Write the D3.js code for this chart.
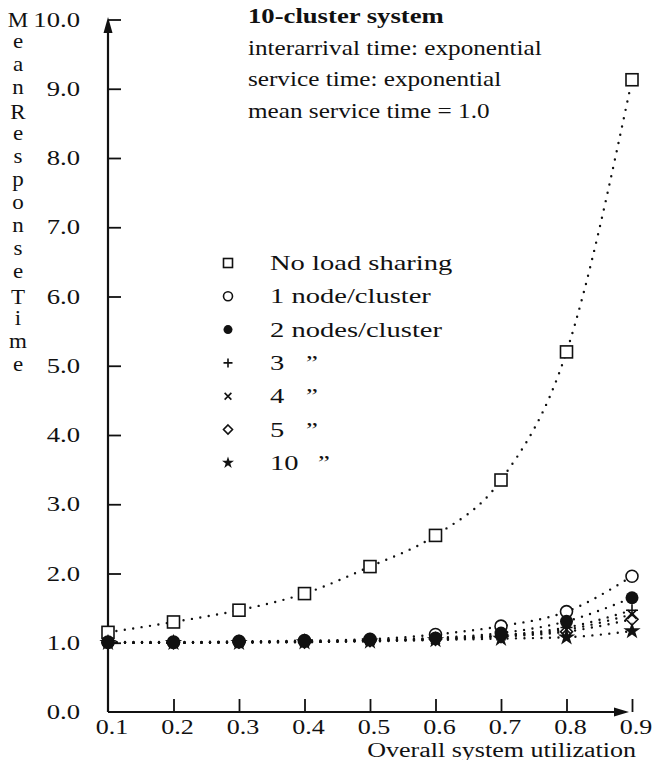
<!DOCTYPE html>
<html><head><meta charset="utf-8">
<script src="https://cdn.jsdelivr.net/npm/d3@7"></script>
<style>html,body{margin:0;padding:0;background:#fff}svg{display:block}</style>
</head><body>
<svg id="c" width="657" height="760"></svg>
<script>
// ---- data ----
const utilization = [0.1, 0.2, 0.3, 0.4, 0.5, 0.6, 0.7, 0.8, 0.9];
const noLoadSharing = [1.15, 1.30, 1.47, 1.71, 2.10, 2.55, 3.35, 5.20, 9.13];
const node1 = [1.01, 1.01, 1.02, 1.03, 1.05, 1.12, 1.24, 1.45, 1.96];
const node2 = [1.00, 1.00, 1.01, 1.02, 1.04, 1.07, 1.14, 1.31, 1.65];
const node3 = [1.00, 1.00, 1.01, 1.02, 1.03, 1.06, 1.11, 1.22, 1.47];
const node4 = [1.00, 1.00, 1.01, 1.01, 1.03, 1.05, 1.10, 1.19, 1.41];
const node5 = [1.00, 1.00, 1.01, 1.01, 1.03, 1.05, 1.09, 1.16, 1.34];
const node10 = [1.00, 1.00, 1.00, 1.01, 1.02, 1.04, 1.06, 1.08, 1.17];
const seriesNames = ["No load sharing", "1 node/cluster", "2 nodes/cluster", "3", "4", "5", "10"];
const markerTypes = ["square", "circle", "dot", "plus", "cross", "diamond", "star"];
const yTicks = [0, 1, 2, 3, 4, 5, 6, 7, 8, 9, 10];
const xTicks = [0.1, 0.2, 0.3, 0.4, 0.5, 0.6, 0.7, 0.8, 0.9];
const titleLines = ["10-cluster system", "interarrival time: exponential", "service time: exponential", "mean service time = 1.0"];
const yLabel = "Mean Response Time";
const xLabel = "Overall system utilization";

const allSeries = [noLoadSharing, node1, node2, node3, node4, node5, node10];

// ---- layout ----
const FONT = "'Liberation Serif', 'Times New Roman', serif";
const SX = 1.27;
const svg = d3.select("#c");
const x = d3.scaleLinear().domain([0.1, 0.9]).range([108, 632]);
const y = d3.scaleLinear().domain([0, 10]).range([712, 19.5]);

function txt(g, str, tx, ty, size, opts = {}) {
  return g.append("text")
    .attr("transform", `translate(${tx},${ty}) scale(${opts.sx || SX},1)`)
    .attr("font-family", FONT)
    .attr("font-size", size)
    .attr("font-weight", opts.bold ? "bold" : "normal")
    .attr("text-anchor", opts.anchor || "start")
    .attr("fill", "#111")
    .text(str);
}

// axes via d3.axis
const yAxis = svg.append("g").attr("transform", `translate(${x(0.1)},0)`)
  .call(d3.axisLeft(y).tickValues(yTicks.filter(d => d > 0)).tickSize(-13).tickFormat(d3.format(".1f")));
yAxis.select(".domain").remove();
yAxis.selectAll(".tick line").attr("stroke", "#111").attr("stroke-width", 1.8);
yAxis.selectAll(".tick text").remove();
yTicks.forEach(v => {
  txt(svg, d3.format(".1f")(v), x(0.1) - 28, y(v) + 7, 21, {anchor: "end"});
});

const xAxis = svg.append("g").attr("transform", `translate(0,${y(0)})`)
  .call(d3.axisBottom(x).tickValues(xTicks.filter(d => d > 0.1)).tickSize(-13));
xAxis.select(".domain").remove();
xAxis.selectAll(".tick line").attr("stroke", "#111").attr("stroke-width", 1.8);
xAxis.selectAll(".tick text").remove();
xTicks.forEach(v => {
  txt(svg, d3.format(".1f")(v), x(v) + 4, 734, 20.5, {anchor: "middle"});
});

// axis lines and arrows
svg.append("line").attr("x1", x(0.1)).attr("x2", x(0.1)).attr("y1", y(0)).attr("y2", 26)
  .attr("stroke", "#111").attr("stroke-width", 2.2);
svg.append("path").attr("d", `M${x(0.1)},17 L${x(0.1) - 4.5},33 L${x(0.1) + 4.5},33 Z`).attr("fill", "#111");
svg.append("line").attr("x1", x(0.1)).attr("x2", x(0.9) - 10).attr("y1", y(0)).attr("y2", y(0))
  .attr("stroke", "#111").attr("stroke-width", 2.2);
svg.append("path").attr("d", `M${x(0.9) - 3},${y(0)} L${x(0.9) - 18},${y(0) - 4.5} L${x(0.9) - 18},${y(0) + 4.5} Z`).attr("fill", "#111");

// stacked y label: letters evenly spaced from the 10.0 tick down to the 5.0 tick
const letters = yLabel.replace(/ /g, "").split("");
const step = (y(5) - y(10)) / (letters.length - 1);
letters.forEach((ch, i) => {
  const cap = ch === ch.toUpperCase();
  const cy = y(10) + i * step;
  txt(svg, ch, 18, cy + (cap ? 7 : 5), 20, {anchor: "middle", sx: 1.15});
});

// x label
txt(svg, xLabel, 636, 757, 20.5, {anchor: "end"});

// title
titleLines.forEach((t, i) => {
  txt(svg, t, 248, 23 + i * 31.5, 21, {bold: i === 0, sx: i === 0 ? 1.27 : 1.2});
});

// markers
function marker(g, type, cx, cy, s) {
  const st = "#111";
  if (type === "square") {
    g.append("rect").attr("x", cx - s).attr("y", cy - s).attr("width", 2 * s).attr("height", 2 * s)
      .attr("fill", "#fff").attr("stroke", st).attr("stroke-width", 1.6);
  } else if (type === "circle") {
    g.append("circle").attr("cx", cx).attr("cy", cy).attr("r", s).attr("fill", "#fff").attr("stroke", st).attr("stroke-width", 1.6);
  } else if (type === "dot") {
    g.append("circle").attr("cx", cx).attr("cy", cy).attr("r", s).attr("fill", st);
  } else if (type === "plus") {
    g.append("path").attr("d", `M${cx - s},${cy}H${cx + s}M${cx},${cy - s}V${cy + s}`).attr("stroke", st).attr("stroke-width", 1.6);
  } else if (type === "cross") {
    const k = s * 0.75;
    g.append("path").attr("d", `M${cx - k},${cy - k}L${cx + k},${cy + k}M${cx - k},${cy + k}L${cx + k},${cy - k}`).attr("stroke", st).attr("stroke-width", 1.6);
  } else if (type === "diamond") {
    g.append("path").attr("d", `M${cx},${cy - s}L${cx + s},${cy}L${cx},${cy + s}L${cx - s},${cy}Z`)
      .attr("fill", "#fff").attr("stroke", st).attr("stroke-width", 1.6);
  } else if (type === "star") {
    g.append("path").attr("d", d3.symbol().type(d3.symbolStar).size(s * s * 2.2)()).attr("transform", `translate(${cx},${cy})`).attr("fill", st);
  }
}

// dotted lines
const line = d3.line().x((d, i) => x(utilization[i])).y(d => y(d)).curve(d3.curveMonotoneX);
allSeries.forEach(s => {
  svg.append("path").attr("d", line(s)).attr("fill", "none").attr("stroke", "#111")
    .attr("stroke-width", 2.4).attr("stroke-linecap", "round").attr("stroke-dasharray", "0 8.5");
});

// points: open circles first, filled markers on top (as in the original)
const drawOrder = [0, 1, 5, 4, 3, 6, 2];
drawOrder.forEach(si => {
  allSeries[si].forEach((v, i) => {
    const t = markerTypes[si];
    const sz = t === "star" ? 6.5 : t === "dot" ? 6.5 : 6;
    marker(svg, t, x(utilization[i]), y(v), sz);
  });
});

// legend
const legendRows = seriesNames.map((n, i) => ({n, t: markerTypes[i], cy: 263 + i * 33.3}));
legendRows.forEach((r, i) => {
  marker(svg, r.t, 228, r.cy, 4.5);
  txt(svg, r.n, 270, r.cy + 7, 21, {sx: 1.36});
  if (i >= 3) txt(svg, "\u201D", r.n.length > 1 ? 318 : 306, r.cy + 7, 21);
});
</script>
</body></html>
